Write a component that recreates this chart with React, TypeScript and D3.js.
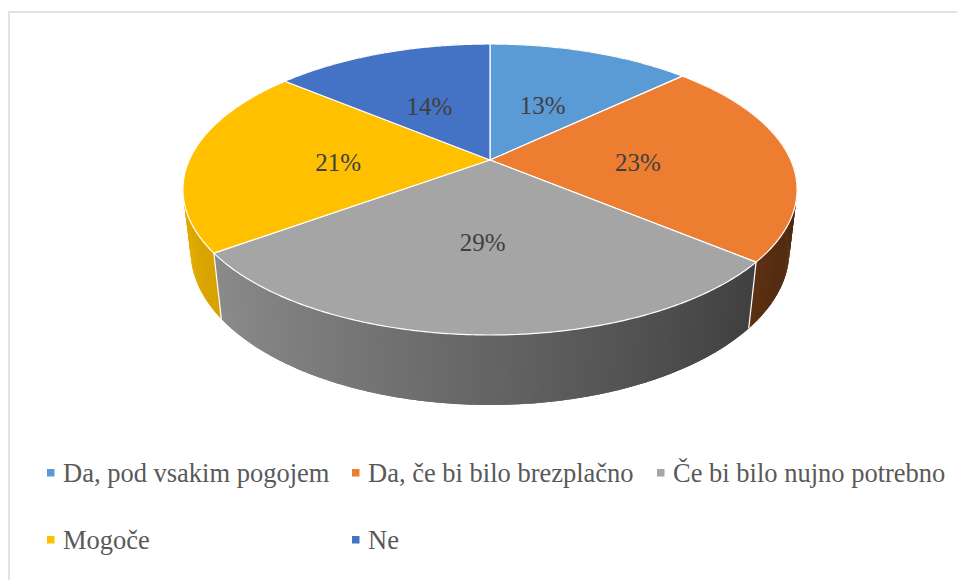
import React from 'react';
import * as d3 from 'd3';

const categories = ['Da, pod vsakim pogojem', 'Da, če bi bilo brezplačno', 'Če bi bilo nujno potrebno', 'Mogoče', 'Ne'];
const values = [13, 23, 29, 21, 14];
const colors = ['#5b9bd5', '#ed7d31', '#a5a5a5', '#ffc000', '#4472c4'];

const W = 957;
const H = 580;

// 3d camera for the tilted disc
const cx = 490, cy = 160;
const K = 1314, D = 4.37;
const se = 0.464, ce = 0.886;
const depth = 0.232;

const proj = (theta: number, r: number, h: number): [number, number] => {
  const u = r * Math.sin(theta);
  const v = r * Math.cos(theta);
  const Y = v * se + h * ce;
  const Z = D + v * ce - h * se;
  return [cx + (K * u) / Z, cy - (K * Y) / Z];
};

// light comes from the front left
const shade = (theta: number) => 0.61 - 0.287 * Math.sin(theta);

const serif = 'Liberation Serif';

const App: React.FC = () => {
  const pie = d3.pie<number>().sort(null).startAngle(0).endAngle(2 * Math.PI);
  const arcs = pie(values);
  const step = Math.PI / 360;
  const ov = step * 0.6;
  const line = d3.line();

  // wall pieces, overlapped a little so no seams show
  const walls: { d: string; fill: string; v: number }[] = [];
  arcs.forEach((a, i) => {
    for (let t = a.startAngle; t < a.endAngle - 1e-9; t += step) {
      const t2 = Math.min(t + step, a.endAngle);
      const s0 = Math.max(a.startAngle, t - ov);
      const s1 = Math.min(a.endAngle, t2 + ov);
      const pts = [proj(s0, 1, 0), proj(s1, 1, 0), proj(s1, 1, -depth), proj(s0, 1, -depth)];
      const c = d3.rgb(colors[i]);
      const f = shade((t + t2) / 2);
      const fill = d3.rgb(c.r * f, c.g * f, c.b * f).formatHex();
      walls.push({ d: line(pts)! + 'Z', fill, v: Math.cos((t + t2) / 2) });
    }
  });
  walls.sort((a, b) => b.v - a.v);

  const tops = arcs.map((a, i) => {
    const pts: [number, number][] = [proj(0, 0, 0)];
    for (let t = a.startAngle; t < a.endAngle; t += step) pts.push(proj(t, 1, 0));
    pts.push(proj(a.endAngle, 1, 0));
    return { d: line(pts)! + 'Z', fill: colors[i] };
  });

  const edges = arcs.map(a => [proj(a.startAngle, 1, 0), proj(a.startAngle, 1, -depth)]);

  const labelPos = arcs.map(a => proj((a.startAngle + a.endAngle) / 2, 0.5, 0));

  const colX = [47, 352, 657];
  const rowY = [473, 540];

  return (
    <svg width={W} height={H} style={{ position: 'fixed', left: 0, top: 0, background: '#fff' }}>
      <rect x={9} y={12} width={W + 20} height={H + 20} fill="#fff" stroke="#d9d9d9" strokeWidth={1.5} />
      {walls.map((w, i) => (
        <path key={'w' + i} d={w.d} fill={w.fill} />
      ))}
      {edges.map((e, i) => (
        <line key={'e' + i} x1={e[0][0]} y1={e[0][1]} x2={e[1][0]} y2={e[1][1]} stroke="#fff" strokeWidth={1.2} />
      ))}
      {tops.map((t, i) => (
        <path key={'t' + i} d={t.d} fill={t.fill} stroke="#fff" strokeWidth={1.2} strokeLinejoin="round" />
      ))}
      {labelPos.map((p, i) => (
        <text key={'l' + i} x={p[0] - 2} y={p[1] + 4.5} textAnchor="middle" dominantBaseline="central"
          fontSize={25} fill="#404040" style={{ fontFamily: serif }}>{`${values[i]}%`}</text>
      ))}
      {categories.map((c, i) => {
        const x = colX[i % 3];
        const y = rowY[Math.floor(i / 3)];
        return (
          <g key={'g' + i}>
            <rect x={x} y={y - 4} width={7.5} height={7.5} fill={colors[i]} />
            <text x={x + 16} y={y} dominantBaseline="central" fontSize={26.5} fill="#595959"
              style={{ fontFamily: serif }}>{c}</text>
          </g>
        );
      })}
    </svg>
  );
};

export default App;
